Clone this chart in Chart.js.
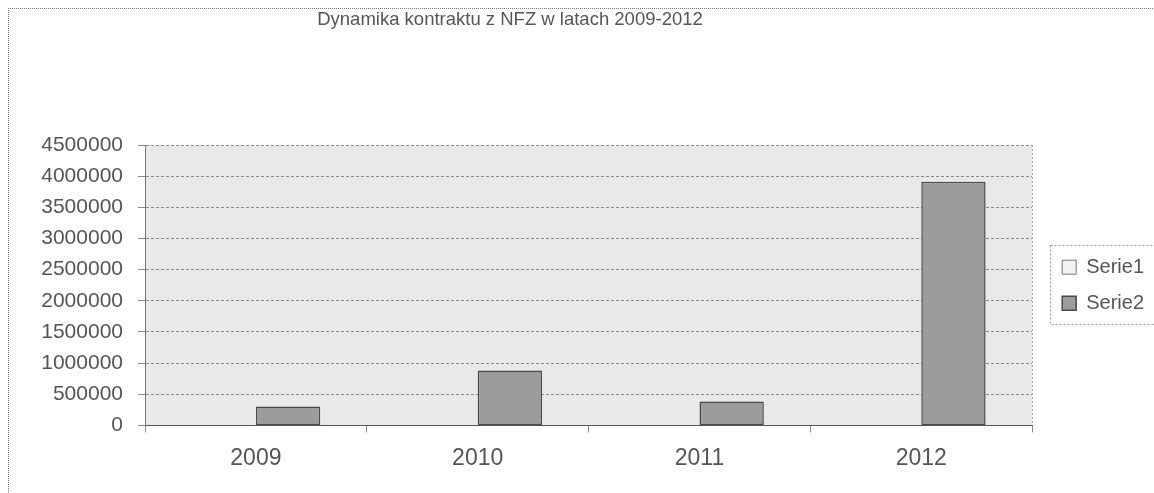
<!DOCTYPE html>
<html><head><meta charset="utf-8">
<script src="https://cdn.jsdelivr.net/npm/chart.js@4.4.1/dist/chart.umd.min.js"></script>
<style>
html,body{margin:0;padding:0;background:#fff;}
#wrap{position:relative;width:1154px;height:493px;overflow:hidden;}
#frame{position:absolute;left:8px;top:8px;width:1300px;height:600px;border-left:1px dotted #777;border-top:1px dotted #777;}
canvas{position:absolute;left:0;top:0;}
</style></head><body>
<div id="wrap"><div id="frame"></div><canvas id="c" width="1154" height="493"></canvas></div>
<script>
const chartTitle = 'Dynamika kontraktu z NFZ w latach 2009-2012';
const categories = ['2009', '2010', '2011', '2012'];
const serie1 = [2009, 2010, 2011, 2012];
const serie2 = [305000, 880000, 385000, 3910000];
const yTicks = [0, 500000, 1000000, 1500000, 2000000, 2500000, 3000000, 3500000, 4000000, 4500000];
const seriesNames = ['Serie1', 'Serie2'];

const FONT = '"Liberation Sans", Arial, sans-serif';
const TXT = '#555';

const decor = {
  id: 'decor',
  beforeDraw(chart) {
    const {ctx, chartArea: a} = chart;
    ctx.save();
    ctx.fillStyle = '#e9e9e9';
    ctx.fillRect(a.left, a.top, a.right - a.left, a.bottom - a.top);
    ctx.restore();
  },
  afterDraw(chart) {
    const {ctx, chartArea: a} = chart;
    ctx.save();
    // right edge of plot
    ctx.strokeStyle = '#aaa';
    ctx.lineWidth = 1;
    ctx.setLineDash([2, 2]);
    ctx.beginPath();
    ctx.moveTo(Math.round(a.right) + 0.5, a.top);
    ctx.lineTo(Math.round(a.right) + 0.5, a.bottom);
    ctx.stroke();
    // legend frame
    const lg = chart.legend;
    if (lg && lg.legendHitBoxes && lg.legendHitBoxes.length) {
      const hb = lg.legendHitBoxes;
      const x = Math.round(hb[0].left) - 11.5;
      const y = Math.round(hb[0].top) - 11.5;
      const y2 = Math.round(hb[hb.length - 1].top + hb[hb.length - 1].height) + 11.5;
      ctx.strokeStyle = '#999';
      ctx.strokeRect(x, y, 300, y2 - y);
    }
    ctx.setLineDash([]);
    // title
    ctx.fillStyle = TXT;
    ctx.font = '18.5px ' + FONT;
    ctx.textAlign = 'center';
    ctx.textBaseline = 'middle';
    ctx.fillText(chartTitle, 510, 20);
    ctx.restore();
  }
};

new Chart(document.getElementById('c'), {
  type: 'bar',
  data: {
    labels: categories,
    datasets: [
      { label: seriesNames[0], data: serie1, backgroundColor: '#f2f2f2', borderColor: '#777', borderWidth: 1 },
      { label: seriesNames[1], data: serie2, backgroundColor: '#9c9c9c', borderColor: '#4a4a4a', borderWidth: 1.5 }
    ]
  },
  options: {
    responsive: false,
    devicePixelRatio: 1,
    animation: false,
    layout: { padding: { left: 8, right: 0, top: 145, bottom: 9 } },
    datasets: { bar: { categoryPercentage: 0.58, barPercentage: 1.0, borderSkipped: false } },
    plugins: {
      title: { display: false },
      tooltip: { enabled: false },
      legend: {
        position: 'right',
        align: 'center',
        fullSize: false,
        labels: {
          boxWidth: 14, boxHeight: 14, padding: 16,
          color: TXT, font: { family: FONT, size: 20 }
        }
      }
    },
    scales: {
      x: {
        offset: true,
        grid: { display: true, drawOnChartArea: false, drawTicks: true, tickLength: 7, color: '#888' },
        border: { display: true, color: '#555', width: 1 },
        ticks: { color: TXT, padding: 12, font: { family: FONT, size: 23 } }
      },
      y: {
        min: yTicks[0],
        max: yTicks[yTicks.length - 1],
        afterFit(s) { s.width = 137; },
        afterBuildTicks(s) { s.ticks = yTicks.map(v => ({ value: v })); },
        grid: {
          color: '#8a8a8a', lineWidth: 1, drawTicks: true, tickLength: 7
        },
        border: { display: true, color: '#777', width: 1, dash: [3, 2] },
        ticks: {
          color: TXT, padding: 15, font: { family: FONT, size: 21 },
          callback: v => String(v)
        }
      },
      y2: {
        type: 'linear',
        position: 'right',
        display: true,
        grid: { display: false },
        border: { display: false },
        ticks: { display: false },
        afterFit(s) { s.width = 14; }
      }
    }
  },
  plugins: [decor]
});
</script>
</body></html>
